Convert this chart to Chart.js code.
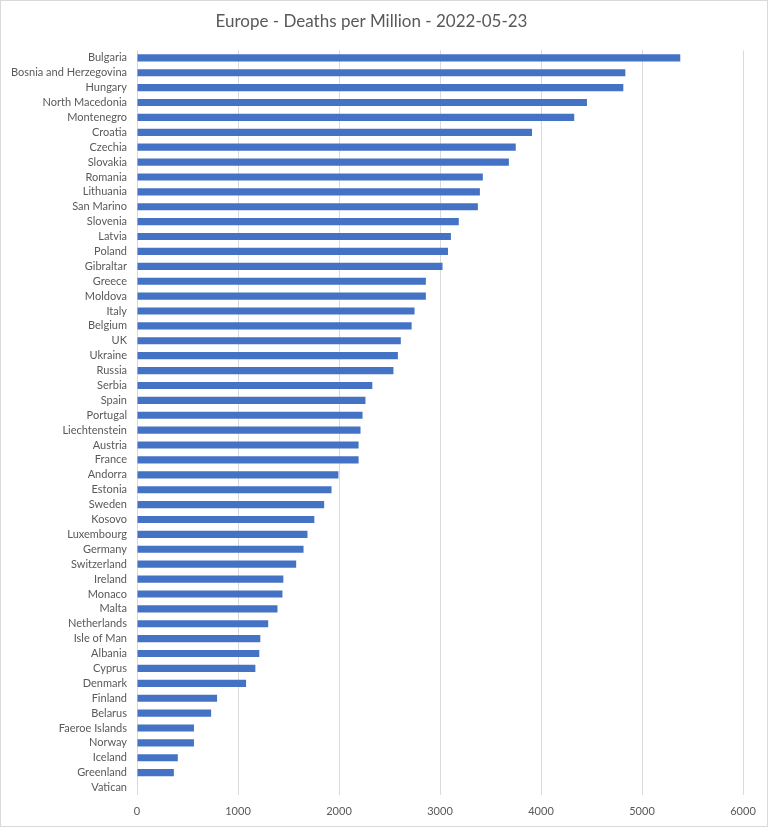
<!DOCTYPE html>
<html>
<head>
<meta charset="utf-8">
<script src="https://cdn.jsdelivr.net/npm/chart.js@4/dist/chart.umd.min.js"></script>
<style>
  html, body { margin: 0; padding: 0; background: #fff; }
  #wrap { width: 768px; height: 827px; position: relative; }
</style>
</head>
<body>
<div id="wrap"><canvas id="c" width="768" height="827"></canvas></div>
<script>
const countries = ["Bulgaria","Bosnia and Herzegovina","Hungary","North Macedonia","Montenegro","Croatia","Czechia","Slovakia","Romania","Lithuania","San Marino","Slovenia","Latvia","Poland","Gibraltar","Greece","Moldova","Italy","Belgium","UK","Ukraine","Russia","Serbia","Spain","Portugal","Liechtenstein","Austria","France","Andorra","Estonia","Sweden","Kosovo","Luxembourg","Germany","Switzerland","Ireland","Monaco","Malta","Netherlands","Isle of Man","Albania","Cyprus","Denmark","Finland","Belarus","Faeroe Islands","Norway","Iceland","Greenland","Vatican"];
const deathsPerMillion = [5379,4835,4815,4455,4329,3911,3750,3682,3424,3395,3375,3186,3108,3079,3025,2860,2860,2748,2719,2612,2583,2539,2330,2262,2233,2213,2194,2194,1994,1926,1853,1756,1688,1649,1576,1449,1440,1391,1299,1221,1211,1172,1080,793,734,564,564,404,365,0];
const xTicks = [0,1000,2000,3000,4000,5000,6000];
const chartTitle = "Europe - Deaths per Million - 2022-05-23";

const frame = {
  id: 'frame',
  beforeDraw(chart) {
    const ctx = chart.ctx;
    ctx.save();
    ctx.fillStyle = '#ffffff';
    ctx.fillRect(0, 0, chart.width, chart.height);
    ctx.strokeStyle = '#d9d9d9';
    ctx.lineWidth = 1;
    ctx.strokeRect(0.5, 0.5, chart.width - 1, chart.height - 1);
    ctx.restore();
  }
};

new Chart(document.getElementById('c'), {
  type: 'bar',
  data: {
    labels: countries,
    datasets: [{
      data: deathsPerMillion,
      backgroundColor: '#4472c4',
      borderWidth: 0,
      categoryPercentage: 1,
      barPercentage: 0.48
    }]
  },
  options: {
    indexAxis: 'y',
    responsive: false,
    devicePixelRatio: 1,
    animation: false,
    layout: { padding: { top: 0, right: 25, bottom: 0, left: 0 } },
    plugins: {
      legend: { display: false },
      tooltip: { enabled: false },
      title: {
        display: true,
        text: chartTitle,
        color: '#595959',
        font: { family: 'Lato', size: 17, weight: 'normal' },
        padding: { top: 11, bottom: 19 }
      }
    },
    scales: {
      x: {
        min: 0, max: 6000,
        afterBuildTicks(scale) { scale.ticks = xTicks.map(v => ({ value: v })); },
        afterFit(scale) { scale.height = 32; },
        grid: { color: '#d9d9d9', drawTicks: false, lineWidth: 1 },
        border: { display: false },
        ticks: {
          color: '#595959', font: { family: 'Lato', size: 11 }, padding: 10,
          callback: (v) => String(v)
        }
      },
      y: {
        afterFit(scale) { scale.width = 137; },
        grid: { display: false, drawTicks: false },
        border: { display: false },
        ticks: { color: '#595959', font: { family: 'Lato', size: 11 }, padding: 10, autoSkip: false }
      }
    }
  },
  plugins: [frame]
});
</script>
</body>
</html>
